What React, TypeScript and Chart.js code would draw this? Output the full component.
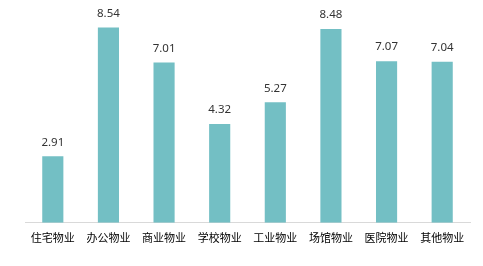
import React, { useEffect, useRef } from "react";
import { Chart, registerables } from "chart.js";

Chart.register(...registerables);

const categories = ["住宅物业", "办公物业", "商业物业", "学校物业", "工业物业", "场馆物业", "医院物业", "其他物业"];
const values = [2.91, 8.54, 7.01, 4.32, 5.27, 8.48, 7.07, 7.04];
const valueLabels = ["2.91", "8.54", "7.01", "4.32", "5.27", "8.48", "7.07", "7.04"];

const labelPlugin = {
  id: "barValueLabels",
  afterDatasetsDraw(chart: any) {
    const ctx = chart.ctx;
    const meta = chart.getDatasetMeta(0);
    ctx.save();
    ctx.font = '11.5px "Noto Sans", "DejaVu Sans", sans-serif';
    ctx.fillStyle = "#333333";
    ctx.textAlign = "center";
    ctx.textBaseline = "middle";
    meta.data.forEach((bar: any, i: number) => {
      ctx.fillText(valueLabels[i], bar.x, bar.y - 14);
    });
    ctx.restore();
  },
};

export default function App() {
  const ref = useRef<HTMLCanvasElement>(null);
  useEffect(() => {
    if (!ref.current) return;
    const chart = new Chart(ref.current, {
      type: "bar",
      data: {
        labels: categories,
        datasets: [
          {
            data: values,
            backgroundColor: "#73BFC4",
            barPercentage: 0.38,
            categoryPercentage: 1,
          },
        ],
      },
      options: {
        animation: false,
        responsive: false,
        maintainAspectRatio: false,
        layout: { padding: { left: 25, right: 13, top: 17, bottom: 14 } },
        plugins: { legend: { display: false }, tooltip: { enabled: false } },
        scales: {
          x: {
            grid: { display: false, drawTicks: false },
            border: { display: true, color: "#d9d9d9", width: 1 },
            ticks: {
              padding: 8,
              color: "#000000",
              font: { family: '"Noto Sans CJK SC", sans-serif', size: 11 },
              maxRotation: 0,
              autoSkip: false,
            },
          },
          y: { display: false, min: 0, max: 9 },
        },
      },
      plugins: [labelPlugin],
    });
    return () => chart.destroy();
  }, []);
  return (
    <div style={{ position: "fixed", left: 0, top: 0, width: 483, height: 266, background: "#fff" }}>
      <canvas ref={ref} width={483} height={266} style={{ width: 483, height: 266 }} />
    </div>
  );
}
